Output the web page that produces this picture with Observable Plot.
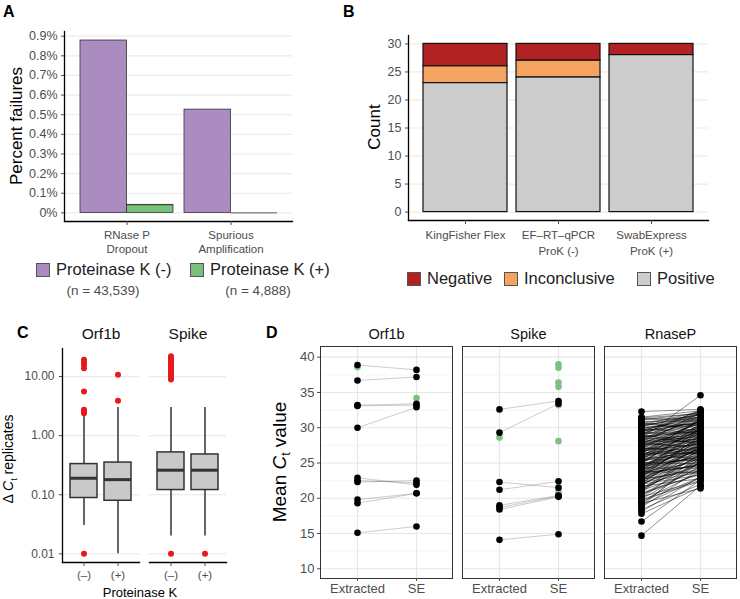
<!DOCTYPE html>
<html><head><meta charset="utf-8">
<script src="https://cdn.jsdelivr.net/npm/d3@7"></script>
<script src="https://cdn.jsdelivr.net/npm/@observablehq/plot@0.6"></script>
<style>
body{margin:0;background:#fff;font-family:"Liberation Sans",Arial,Helvetica,sans-serif;}
#fig{position:relative;width:740px;height:599px;overflow:hidden;background:#fff;}
#fig svg{position:absolute;}
.panel{position:absolute;font-weight:bold;font-size:16px;line-height:16px;color:#000;}
.rot{position:absolute;transform:translate(-50%,-50%) rotate(-90deg);white-space:nowrap;color:#000;line-height:1;}
.hc{position:absolute;transform:translate(-50%,-50%);white-space:nowrap;line-height:1;}
.leg{position:absolute;display:flex;align-items:center;white-space:nowrap;color:#222;line-height:1;}
.sw{display:inline-block;width:14px;height:14px;border:1px solid #555;box-sizing:border-box;margin-right:6px;}
</style></head><body><div id="fig"></div>
<script>
const FONT = '"Liberation Sans", Arial, Helvetica, sans-serif';

// ---------- Panel A data ----------
const aGroups = ["RNase P\nDropout", "Spurious\nAmplification"];
const aTreatments = ["Proteinase K (-)", "Proteinase K (+)"];
const aNotes = ["(n = 43,539)", "(n = 4,888)"];
const aMinus = [0.00878, 0.00526];
const aPlus = [0.00041, 0];
const aTicks = [0, 0.001, 0.002, 0.003, 0.004, 0.005, 0.006, 0.007, 0.008, 0.009];
const aColors = ["#ab8cc0", "#79c17b"];

// ---------- Panel B data ----------
const bMethods = ["KingFisher Flex", "EF\u2013RT\u2013qPCR\nProK (-)", "SwabExpress\nProK (+)"];
const bOutcomes = ["Negative", "Inconclusive", "Positive"];
const bNegative = [4, 3, 2];
const bInconclusive = [3, 3, 0];
const bPositive = [23, 24, 28];
const bTicks = [0, 5, 10, 15, 20, 25, 30];
const bColors = ["#b22222", "#f4a460", "#cccccc"];

// ---------- Panel C data ----------
const cGenes = ["Orf1b", "Orf1b", "Spike", "Spike"];
const cTreat = ["(\u2013)", "(+)", "(\u2013)", "(+)"];
const cLow = [0.03, 0.01, 0.02, 0.02];
const cQ1 = [0.088, 0.079, 0.12, 0.12];
const cMed = [0.19, 0.18, 0.26, 0.26];
const cQ3 = [0.33, 0.35, 0.52, 0.48];
const cHigh = [2.3, 3.0, 3.0, 3.0];
const cOutGene = ["Orf1b","Orf1b","Orf1b","Orf1b","Orf1b","Orf1b","Orf1b","Orf1b","Orf1b",
                  "Orf1b","Orf1b",
                  "Spike","Spike","Spike","Spike","Spike","Spike","Spike","Spike","Spike","Spike","Spike","Spike","Spike","Spike",
                  "Spike"];
const cOutTreat = ["(\u2013)","(\u2013)","(\u2013)","(\u2013)","(\u2013)","(\u2013)","(\u2013)","(\u2013)","(\u2013)",
                   "(+)","(+)",
                   "(\u2013)","(\u2013)","(\u2013)","(\u2013)","(\u2013)","(\u2013)","(\u2013)","(\u2013)","(\u2013)","(\u2013)","(\u2013)","(\u2013)","(\u2013)","(\u2013)",
                   "(+)"];
const cOutValue = [0.01, 2.4, 2.55, 2.75, 5.6, 13.8, 15.8, 17.5, 19.2,
                   3.9, 10.7,
                   0.01, 8.9, 9.5, 10.2, 11.0, 12.0, 13.0, 14.0, 15.0, 16.2, 17.5, 19.0, 20.5, 22.0,
                   0.01];
const cTicks = [0.01, 0.1, 1, 10];

// ---------- Panel D data ----------
const dGenes = ["Orf1b", "Spike", "RnaseP"];
const dMethods = ["Extracted", "SE"];
const orf1bExt = [38.9, 36.7, 33.2, 33.1, 30.0, 22.9, 22.5, 22.3, 19.8, 19.3, 15.1];
const orf1bSE  = [38.2, 37.2, 33.4, 33.2, 32.9, 21.9, 22.2, 22.5, 20.7, 20.7, 16.0];
const spikeExt = [32.6, 29.3, 22.3, 21.2, 19.0, 18.7, 18.4, 14.1];
const spikeSE  = [33.8, 33.4, 21.5, 22.4, 20.4, 20.3, 20.2, 14.9];
const rnasePExt = [14.7, 16.7, 17.8, 18.1, 18.4, 18.7, 19.0, 19.3, 19.6, 19.9, 20.2, 20.5, 20.8, 21.1, 21.4, 21.7,
  22.0, 22.3, 22.5, 22.7, 22.9, 23.1, 23.3, 23.5, 23.7, 23.9, 24.1, 24.3, 24.5, 24.7, 24.9, 25.1, 25.3, 25.5,
  25.7, 25.9, 26.1, 26.3, 26.5, 26.7, 26.9, 27.1, 27.3, 27.5, 27.7, 27.9, 28.1, 28.3, 28.5, 28.7, 28.9, 29.1,
  29.3, 29.5, 29.7, 29.9, 30.1, 30.3, 30.5, 30.7, 30.9, 31.1, 31.3, 31.5, 32.3,
  24.0, 25.0, 26.0, 23.0, 27.0, 22.1, 25.6, 26.6, 24.4, 28.0, 23.8, 21.0, 20.0, 27.6, 29.0, 19.2, 26.2, 24.8, 25.4, 23.4,
  22.4, 22.6, 22.8, 23.2, 23.6, 24.2, 24.6, 25.2, 25.8, 26.4, 26.8, 27.2, 27.4, 27.8, 28.2, 28.6, 28.8, 29.2, 29.6, 30.0,
  30.4, 30.8, 31.2, 31.4, 21.2, 21.8, 20.4, 20.9, 19.5, 18.9, 23.9, 24.9, 25.9, 26.9, 27.9, 28.4, 29.4, 30.2, 22.0, 23.5,
  21.5, 21.9, 22.2, 22.6, 23.0, 23.3, 23.6, 23.9, 24.2, 24.5, 24.8, 25.1, 25.4, 25.7, 26.0, 26.3, 26.6, 26.9, 27.2, 27.5,
  27.8, 28.1, 28.4, 28.7, 29.0, 29.3, 29.6, 29.9, 30.2, 30.6,
  22.1, 22.7, 23.2, 23.7, 24.3, 24.6, 25.0, 25.5, 25.9, 26.4, 26.8, 27.3, 27.7, 28.2, 28.6, 29.1, 29.5, 20.6, 21.3, 19.8];
const rnasePSE = [21.8, 22.6, 21.6, 23.1, 22.0, 24.2, 22.9, 21.4, 23.8, 24.6, 22.5, 25.1, 23.4, 24.0, 26.2, 22.8,
  25.3, 24.5, 26.8, 23.9, 25.7, 27.1, 24.8, 26.3, 25.2, 27.6, 26.0, 24.3, 27.9, 26.6, 25.5, 28.3, 26.9, 27.3,
  25.9, 28.8, 27.0, 26.4, 29.2, 27.7, 28.1, 26.8, 29.6, 28.4, 27.4, 30.1, 28.7, 29.0, 34.6, 29.9, 28.2, 30.5,
  29.4, 30.8, 29.7, 31.2, 30.3, 31.5, 30.0, 31.8, 30.9, 32.1, 31.4, 32.4, 32.6,
  28.5, 24.9, 30.2, 28.9, 31.0, 27.5, 29.8, 25.4, 29.3, 31.7, 23.6, 26.9, 26.1, 32.2, 32.5, 25.2, 28.6, 30.6, 31.3, 29.9,
  26.5, 28.0, 25.0, 27.2, 28.2, 27.4, 25.8, 29.5, 27.8, 30.4, 26.2, 28.9, 30.7, 29.3, 30.9, 27.9, 31.6, 29.1, 31.9, 30.6,
  32.3, 29.5, 31.1, 32.0, 25.6, 27.0, 24.4, 26.4, 23.0, 25.8, 30.0, 26.7, 31.4, 29.4, 27.1, 32.0, 32.4, 31.9, 23.3, 24.7,
  24.9, 26.1, 23.7, 27.3, 25.6, 28.4, 24.6, 26.9, 29.0, 25.8, 27.5, 30.3, 26.7, 28.0, 29.7, 27.2, 31.0, 28.6, 26.3, 29.8,
  30.6, 28.0, 31.3, 29.5, 27.6, 30.9, 31.6, 29.2, 32.0, 30.4,
  27.8, 24.1, 28.8, 26.6, 29.4, 27.0, 30.0, 25.3, 28.3, 31.1, 27.7, 30.3, 28.9, 31.5, 29.6, 32.2, 30.7, 23.5, 25.1, 22.4];
const greenGene = ["Orf1b", "Orf1b", "Spike", "Spike", "Spike", "Spike", "Spike", "Spike", "Spike", "Spike"];
const greenMethod = ["Extracted", "SE", "Extracted", "SE", "SE", "SE", "SE", "SE", "SE", "SE"];
const greenCt = [38.6, 34.2, 28.6, 39.0, 38.5, 36.4, 35.8, 33.2, 28.1, 20.9];
const dMajor = [10, 15, 20, 25, 30, 35, 40];
const dMinor = [12.5, 17.5, 22.5, 27.5, 32.5, 37.5];

// ---------- helpers ----------
const fig = document.getElementById("fig");
function place(el, left, top) { el.style.left = left + "px"; el.style.top = top + "px"; fig.appendChild(el); }
function html(cls, content, left, top, extra) {
  const d = document.createElement("div"); d.className = cls; d.innerHTML = content;
  if (extra) Object.assign(d.style, extra);
  place(d, left, top); return d;
}
const style = {fontFamily: FONT, background: "transparent", overflow: "visible"};

// ---------- Panel A ----------
const aRows = aGroups.flatMap((g, i) => [
  {group: g, t: aTreatments[0], value: aMinus[i]},
  {group: g, t: aTreatments[1], value: aPlus[i]}
]);
const aW = 300 - 64 - 8;
const aPadIn = 0.106, aPadOut = 0.149;
const aBw = aW / (aGroups.length - aPadIn + 2 * aPadOut) * (1 - aPadIn);
const aFmt = d => d === 0 ? "0%" : (d * 100).toFixed(1) + "%";
const plotA = Plot.plot({
  width: 300, height: 258, marginLeft: 64, marginRight: 8, marginTop: 31, marginBottom: 37,
  style,
  x: {domain: aGroups, paddingInner: aPadIn, paddingOuter: aPadOut, label: null},
  y: {domain: [-0.00044, 0.00924], label: null},
  marks: [
    Plot.gridY(aTicks, {stroke: "#ebebeb", strokeOpacity: 1, strokeWidth: 1.2}),
    Plot.barY(aRows.filter(d => d.t === aTreatments[0]), {x: "group", y: "value", fill: aColors[0], stroke: "#333", strokeWidth: 0.8, insetRight: aBw / 2}),
    Plot.barY(aRows.filter(d => d.t === aTreatments[1]), {x: "group", y: "value", fill: aColors[1], stroke: "#333", strokeWidth: 0.8, insetLeft: aBw / 2}),
    Plot.tickY(aRows.filter(d => d.t === aTreatments[1]), {x: "group", y: "value", stroke: "#333", strokeWidth: 0.8, insetLeft: aBw / 2}),
    Plot.frame({anchor: "left", stroke: "#000", strokeWidth: 1.3}),
    Plot.frame({anchor: "bottom", stroke: "#000", strokeWidth: 1.3}),
    Plot.axisY(aTicks, {tickFormat: aFmt, tickSize: 3, tickPadding: 4, fontSize: 12.5, color: "#4d4d4d", label: null}),
    Plot.axisX({tickSize: 4, tickPadding: 3, fontSize: 11.5, lineHeight: 1.25, color: "#4d4d4d", label: null})
  ]
});
place(plotA, 0, 0);
html("rot", "Percent failures", 16, 126, {fontSize: "17px"});
aTreatments.forEach((t, i) => {
  html("leg", `<span class="sw" style="background:${aColors[i]}"></span><span>${t}</span>`, [36, 190][i], 262, {fontSize: "16.5px", height: "15px"});
  html("hc", aNotes[i], [103, 258][i], 291, {fontSize: "13.5px", color: "#4d4d4d"});
});

// ---------- Panel B ----------
const bCounts = [bNegative, bInconclusive, bPositive];
const bRows = bMethods.flatMap((m, i) => bOutcomes.map((o, j) => ({method: m, outcome: o, count: bCounts[j][i]})));
const plotB = Plot.plot({
  width: 370, height: 258, marginLeft: 68, marginRight: 2, marginTop: 35, marginBottom: 38,
  style,
  x: {domain: bMethods, paddingInner: 0.1, paddingOuter: 0.147, label: null},
  y: {domain: [-1.5, 31.5], label: null},
  color: {domain: bOutcomes, range: bColors},
  marks: [
    Plot.gridY(bTicks, {stroke: "#ebebeb", strokeOpacity: 1, strokeWidth: 1.2}),
    Plot.barY(bRows, {x: "method", y: "count", fill: "outcome", order: ["Positive", "Inconclusive", "Negative"], stroke: "#111", strokeWidth: 1.2}),
    Plot.frame({anchor: "left", stroke: "#000", strokeWidth: 1.3}),
    Plot.frame({anchor: "bottom", stroke: "#000", strokeWidth: 1.3}),
    Plot.axisY(bTicks, {tickSize: 3, tickPadding: 4, fontSize: 12.5, color: "#4d4d4d", label: null}),
    Plot.axisX({tickSize: 4, tickPadding: 3, fontSize: 11.5, lineHeight: 1.4, color: "#4d4d4d", label: null})
  ]
});
place(plotB, 340, 0);
html("rot", "Count", 374, 127, {fontSize: "17px"});
bOutcomes.forEach((o, i) => {
  html("leg", `<span class="sw" style="background:${bColors[i]}"></span><span>${o}</span>`, [407, 504, 637][i], 271, {fontSize: "16.5px", height: "15px"});
});

// ---------- Panel C ----------
const cRows = cGenes.map((g, i) => ({gene: g, treat: cTreat[i], low: cLow[i], q1: cQ1[i], med: cMed[i], q3: cQ3[i], high: cHigh[i]}));
const cOut = cOutValue.map((v, i) => ({gene: cOutGene[i], treat: cOutTreat[i], value: v}));
const plotC = Plot.plot({
  width: 240, height: 299, marginLeft: 61, marginRight: 13, marginTop: 48, marginBottom: 37,
  style,
  fx: {domain: ["Orf1b", "Spike"], paddingInner: 0.1136, paddingOuter: 0, label: null},
  x: {domain: ["(\u2013)", "(+)"], paddingInner: 0.21, paddingOuter: 0.206, label: null},
  y: {type: "log", domain: [0.00713, 29.8], label: null},
  marks: [
    Plot.gridY(cTicks, {stroke: "#ebebeb", strokeOpacity: 1, strokeWidth: 1.2}),
    Plot.ruleX(cRows, {fx: "gene", x: "treat", y1: "low", y2: "high", stroke: "#333", strokeWidth: 1.5}),
    Plot.barY(cRows, {fx: "gene", x: "treat", y1: "q1", y2: "q3", fill: "#c9c9c9", stroke: "#333", strokeWidth: 1.5}),
    Plot.tickY(cRows, {fx: "gene", x: "treat", y: "med", stroke: "#333", strokeWidth: 3}),
    Plot.dot(cOut, {fx: "gene", x: "treat", y: "value", r: 3, fill: "#e41a1c"}),
    Plot.frame({anchor: "left", facetAnchor: "left", stroke: "#000", strokeWidth: 1.3}),
    Plot.frame({anchor: "bottom", stroke: "#000", strokeWidth: 1.3}),
    Plot.axisY(cTicks, {tickFormat: d3.format(".2f"), tickSize: 3, tickPadding: 5, fontSize: 12, color: "#4d4d4d", label: null}),
    Plot.axisX({tickSize: 4, tickPadding: 4, fontSize: 11.5, color: "#4d4d4d", label: null}),
    Plot.axisFx({anchor: "top", tickSize: 0, tickPadding: 10, fontSize: 15.5, color: "#111", label: null})
  ]
});
place(plotC, 0, 300);
html("rot", "&Delta; <i>C</i><sub style='font-size:9px'>t</sub> replicates", 10, 459, {fontSize: "14px"});
html("hc", "Proteinase K", 140, 592, {fontSize: "13px", color: "#000"});

// ---------- Panel D ----------
function pairRows(gene, ext, se) {
  return ext.flatMap((v, i) => [
    {gene, method: dMethods[0], ct: v, id: gene + i},
    {gene, method: dMethods[1], ct: se[i], id: gene + i}
  ]);
}
const dPairsVirus = [
  ...pairRows("Orf1b", orf1bExt, orf1bSE),
  ...pairRows("Spike", spikeExt, spikeSE)
];
const dPairsHost = pairRows("RnaseP", rnasePExt, rnasePSE);
const dPairs = [...dPairsVirus, ...dPairsHost];
const dGreen = greenCt.map((v, i) => ({gene: greenGene[i], method: greenMethod[i], ct: v}));
const plotD = Plot.plot({
  width: 470, height: 299, marginLeft: 50, marginRight: 3, marginTop: 46, marginBottom: 21,
  style,
  fx: {domain: dGenes, paddingInner: 0.0704, paddingOuter: 0, label: null},
  x: {type: "point", domain: dMethods, padding: 0.6, label: null},
  y: {domain: [8.62, 41.52], label: null},
  marks: [
    Plot.gridY(dMinor, {stroke: "#f0f0f0", strokeOpacity: 1, strokeWidth: 0.7}),
    Plot.gridY(dMajor, {stroke: "#e6e6e6", strokeOpacity: 1, strokeWidth: 1.2}),
    Plot.gridX(dMethods, {stroke: "#e6e6e6", strokeOpacity: 1, strokeWidth: 1.2}),
    Plot.line(dPairsVirus, {fx: "gene", x: "method", y: "ct", z: "id", stroke: "#333", strokeWidth: 0.5, strokeOpacity: 0.5}),
    Plot.line(dPairsHost, {fx: "gene", x: "method", y: "ct", z: "id", stroke: "#000", strokeWidth: 0.6, strokeOpacity: 0.75}),
    Plot.dot(dGreen, {fx: "gene", x: "method", y: "ct", r: 3.3, fill: "#7fbf7f"}),
    Plot.dot(dPairs, {fx: "gene", x: "method", y: "ct", r: 3.3, fill: "#000"}),
    Plot.frame({stroke: "#333", strokeWidth: 1}),
    Plot.axisY(dMajor, {tickSize: 3, tickPadding: 3, fontSize: 13, color: "#4d4d4d", label: null}),
    Plot.axisX({tickSize: 3, tickPadding: 2, fontSize: 13, color: "#4d4d4d", label: null}),
    Plot.axisFx({anchor: "top", tickSize: 0, tickPadding: 8, fontSize: 14.5, color: "#111", label: null})
  ]
});
place(plotD, 270, 300);
html("rot", "Mean <i>C</i><sub style='font-size:12px'>t</sub> value", 281, 462, {fontSize: "19px"});

// ---------- panel letters ----------
[["A", 3, 4], ["B", 343, 4], ["C", 17, 325], ["D", 266, 325]].forEach(([t, x, y]) => html("panel", t, x, y));
</script>
</body></html>
